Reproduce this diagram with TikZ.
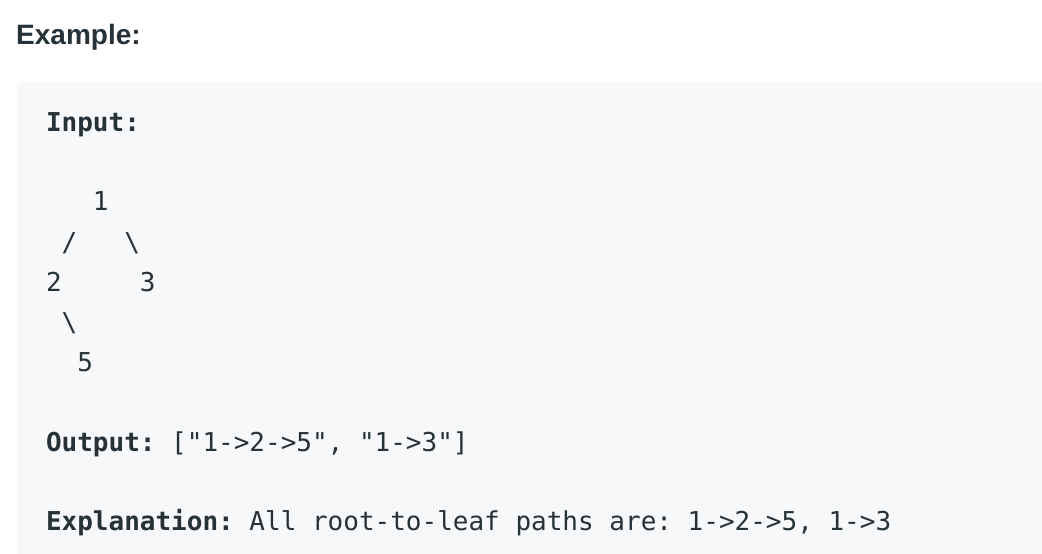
\documentclass[tikz,border=0pt]{standalone}
\usepackage{fontspec}
\setmainfont{Liberation Sans}
\setmonofont{DejaVu Sans Mono}
\definecolor{txt}{HTML}{263238}
\definecolor{boxbg}{HTML}{F7F8FA}
\begin{document}
\begin{tikzpicture}[x=1pt,y=-1pt,
  code/.style={anchor=base west,inner sep=0pt,outer sep=0pt,text=txt,font=\fontsize{26}{30}\selectfont\ttfamily},
  codeb/.style={code,font=\fontsize{26}{30}\selectfont\ttfamily\bfseries},
  title/.style={anchor=base west,inner sep=0pt,text=txt,font=\fontsize{28}{32}\selectfont\bfseries}]
\useasboundingbox (0,0) rectangle (1042,554);
\clip (0,0) rectangle (1042,554);
\fill[white] (0,0) rectangle (1042,554);
\fill[boxbg,rounded corners=6pt] (17,82) rectangle (1060,580);
\node[title] (ex) at (16,44) {Example:};
\node[codeb] (in) at (46,131) {Input:};
% tree, monospace columns of 15.65px starting at x=46
\node[code] (n1) at (46+3*15.65,210) {1};
\node[code] (sl) at (46+1*15.65,251) {/};
\node[code] (br) at (46+5*15.65,251) {\textbackslash};
\node[code] (n2) at (46+0*15.65,291) {2};
\node[code] (n3) at (46+6*15.65,291) {3};
\node[code] (bl) at (46+1*15.65,331) {\textbackslash};
\node[code] (n5) at (46+2*15.65,371) {5};
\node[codeb] (out) at (46,451) {Output:};
\node[code] (outv) at (46+8*15.65,451) {["1->2->5", "1->3"]};
\node[codeb] (exp) at (46,530) {Explanation:};
\node[code] (expv) at (46+13*15.65,530) {All root-to-leaf paths are: 1->2->5, 1->3};
\end{tikzpicture}
\end{document}
